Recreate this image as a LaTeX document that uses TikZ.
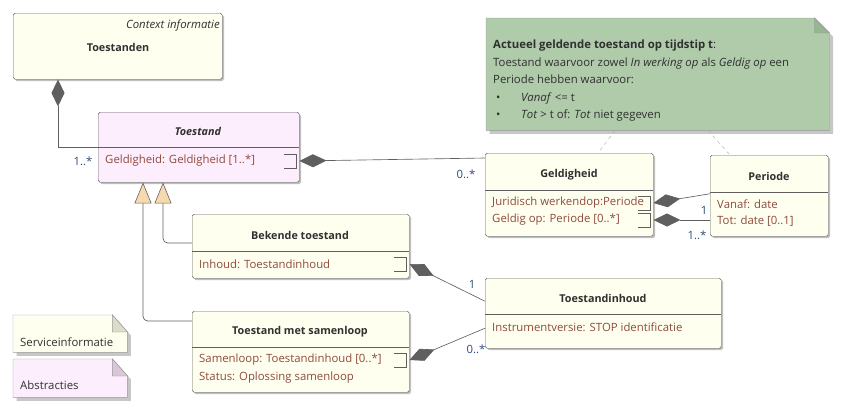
\documentclass[tikz,border=0pt]{standalone}
\usepackage{fontspec}
\setmainfont{Open Sans}
\usetikzlibrary{arrows.meta,calc,shadows}

\definecolor{linegray}{HTML}{5F5F5F}
\definecolor{classfill}{HTML}{FFFFF0}
\definecolor{abstrfill}{HTML}{FDEEFD}
\definecolor{notefill}{HTML}{AFCBAA}
\definecolor{notefold}{HTML}{97B592}
\definecolor{servfold}{HTML}{DCDCC8}
\definecolor{abstrfold}{HTML}{D9C6D9}
\definecolor{tanfill}{HTML}{F7D9AE}
\definecolor{attrcol}{HTML}{8E4A3A}
\definecolor{multcol}{HTML}{2E4C7A}
\definecolor{titlecol}{HTML}{303030}

\begin{document}
\begin{tikzpicture}[
  x=0.03cm, y=-0.03cm,
  font=\fontsize{9.7}{11}\selectfont,
  classbox/.style={draw=linegray, fill=classfill, rounded corners=1.5pt, anchor=north west, inner sep=0pt,
    drop shadow={shadow xshift=1.5pt, shadow yshift=-1.5pt, fill=black!25, opacity=1}},
  notespot/.style={anchor=north west, inner sep=0pt},
  notebody/.style={draw=gray!80, drop shadow={shadow xshift=3pt, shadow yshift=-3pt, fill=black!22, opacity=1}},
  titletext/.style={font=\fontsize{9.2}{11}\selectfont\bfseries, text=titlecol, inner sep=0pt},
  attrtext/.style={anchor=west, text=attrcol, inner sep=0pt},
  mult/.style={text=multcol, inner sep=0pt},
  divline/.style={draw=linegray},
  comp/.style={draw=linegray, line width=0.55pt, {Diamond[length=0.81cm, width=0.39cm, fill=linegray]}-},
  gen/.style={draw=linegray, line width=0.6pt, rounded corners=4pt, -{Triangle[length=0.63cm, width=0.51cm, fill=tanfill, line width=0.5pt]}},
  notelink/.style={draw=gray!60, dash pattern=on 3pt off 3pt},
  endmark/.pic={\draw[linegray] (-15,-7) -- (-3,-7) -- (-3,7) -- (-15,7);}
]
\useasboundingbox (0,0) rectangle (847,410);

% Classes
\node[classbox, minimum width=6.27cm, minimum height=1.98cm] (toestanden) at (13,13) {};
\node[inner sep=0pt, anchor=east, font=\fontsize{9.7}{11}\selectfont\itshape, text=titlecol] (ctx) at (220,26) {Context informatie};
\node[titletext] (toestandentitle) at (118,47) {Toestanden};

\node[classbox, fill=abstrfill, minimum width=6.03cm, minimum height=2.1cm] (toestand) at (98,112) {};
\node[titletext, font=\fontsize{9.2}{11}\selectfont\bfseries\itshape] (toestandtitle) at (198,131) {Toestand};
\node[attrtext] (tgeld) at (105,161) {Geldigheid: Geldigheid [1..*]};

\node[classbox, minimum width=6.51cm, minimum height=1.92cm] (bekend) at (192,214) {};
\node[titletext] (bekendtitle) at (300,235) {Bekende toestand};
\node[attrtext] (binh) at (199,264) {Inhoud: Toestandinhoud};

\node[classbox, minimum width=6.51cm, minimum height=2.43cm] (samenloop) at (192,311) {};
\node[titletext] (samenlooptitle) at (300,332) {Toestand met samenloop};
\node[attrtext] (ssam) at (199,360) {Samenloop: Toestandinhoud [0..*]};
\node[attrtext] (sstat) at (199,378) {Status: Oplossing samenloop};

\node[classbox, minimum width=7.08cm, minimum height=2.1cm] (inhoud) at (485,278) {};
\node[titletext] (inhoudtitle) at (603,298) {Toestandinhoud};
\node[attrtext] (iinstr) at (492,327) {Instrumentversie: STOP identificatie};

\node[classbox, minimum width=5.04cm, minimum height=2.49cm] (geld) at (485,153) {};
\node[titletext] (geldtitle) at (569,175) {Geldigheid};
\node[attrtext] (gjur) at (492,203) {Juridisch werkendop:Periode};
\node[attrtext] (gop) at (492,220) {Geldig op: Periode [0..*]};

\node[classbox, minimum width=3.54cm, minimum height=2.43cm] (periode) at (710,155) {};
\node[titletext] (periodetitle) at (769,176) {Periode};
\node[attrtext] (pvan) at (717,204) {Vanaf: date};
\node[attrtext] (ptot) at (717,221) {Tot: date [0..1]};

% Compartments and owned ends
\foreach \cls/\dy in {toestand/35, bekend/37, samenloop/36, inhoud/36, geld/37, periode/37}
  \draw[divline] ($(\cls.north west)+(0,\dy)$) -- ($(\cls.north east)+(0,\dy)$);
\foreach \row/\cls in {tgeld/toestand, binh/bekend, ssam/samenloop, gjur/geld, gop/geld}
  \pic at (\cls.east |- \row) {endmark};

% Note
\node[notespot, minimum width=10.29cm, minimum height=3.36cm] (note) at (486,18) {};
\path[notebody, fill=notefill] (note.north west) -- ($(note.north east)+(-15,0)$) -- ($(note.north east)+(0,15)$)
  -- (note.south east) -- (note.south west) -- cycle;
\draw[draw=gray!80, fill=notefold] ($(note.north east)+(-15,0)$) -- ($(note.north east)+(-15,15)$) -- ($(note.north east)+(0,15)$) -- cycle;
\node[anchor=north west, inner sep=0pt, align=left, text=titlecol, font=\fontsize{9.7}{14.9}\selectfont] (notetext) at (493,40)
  {\textbf{Actueel geldende toestand op tijdstip t}:\\
   Toestand waarvoor zowel \textit{In werking op} als \textit{Geldig op} een\\
   Periode hebben waarvoor:\\
   \hspace{0.09cm}\makebox[0.75cm][l]{•}\textit{Vanaf} <= t\\
   \hspace{0.09cm}\makebox[0.75cm][l]{•}\textit{Tot} > t of: \textit{Tot} niet gegeven};
\draw[notelink] ($(note.south west)+(129,0)$) -- ($(geld.north west)+(113,0)$);
\draw[notelink] ($(note.south west)+(222,0)$) -- ($(periode.north west)+(20,0)$);

% Legend
\node[notespot, minimum width=3.42cm, minimum height=1.11cm] (service) at (13,315) {};
\path[notebody, fill=classfill] (service.north west) -- ($(service.north east)+(-15,0)$) -- ($(service.north east)+(0,17)$)
  -- (service.south east) -- (service.south west) -- cycle;
\draw[draw=gray!80, fill=servfold] ($(service.north east)+(-15,0)$) -- ($(service.north east)+(-15,17)$) -- ($(service.north east)+(0,17)$) -- cycle;
\node[anchor=west, inner sep=0pt, text=titlecol] (servicetext) at (20,342) {Serviceinformatie};

\node[notespot, minimum width=3.42cm, minimum height=1.14cm] (abstr) at (13,359) {};
\path[notebody, fill=abstrfill] (abstr.north west) -- ($(abstr.north east)+(-15,0)$) -- ($(abstr.north east)+(0,17)$)
  -- (abstr.south east) -- (abstr.south west) -- cycle;
\draw[draw=gray!80, fill=abstrfold] ($(abstr.north east)+(-15,0)$) -- ($(abstr.north east)+(-15,17)$) -- ($(abstr.north east)+(0,17)$) -- cycle;
\node[anchor=west, inner sep=0pt, text=titlecol] (abstrtext) at (20,385) {Abstracties};

% Associations
\draw[comp] ($(toestanden.south west)+(45,0)$) |- ($(toestand.north west)+(0,35)$);
\draw[comp] (toestand.east |- tgeld) -- ($(geld.north west)+(0,5)$);
\draw[comp] (bekend.east |- binh) -- ($(inhoud.west)+(0,-12)$);
\draw[comp] (samenloop.east |- ssam) -- ($(inhoud.west)+(0,15)$);
\draw[comp] (geld.east |- gjur) -- ($(periode.west)+(0,-2)$);
\draw[comp] (geld.east |- gop) -- (periode.west |- gop);

% Generalizations
\draw[gen] ($(bekend.north west)+(0,29)$) -| ($(toestand.south west)+(65,0)$);
\draw[gen] ($(samenloop.north west)+(0,10)$) -| ($(toestand.south west)+(45,0)$);

% Multiplicities
\node[mult] (m1) at (83,161) {1..*};
\node[mult] (m2) at (466,174) {0..*};
\node[mult] (m3) at (472,284) {1};
\node[mult] (m4) at (476,349) {0..*};
\node[mult] (m5) at (704,210) {1};
\node[mult] (m6) at (697,235) {1..*};

\end{tikzpicture}
\end{document}
